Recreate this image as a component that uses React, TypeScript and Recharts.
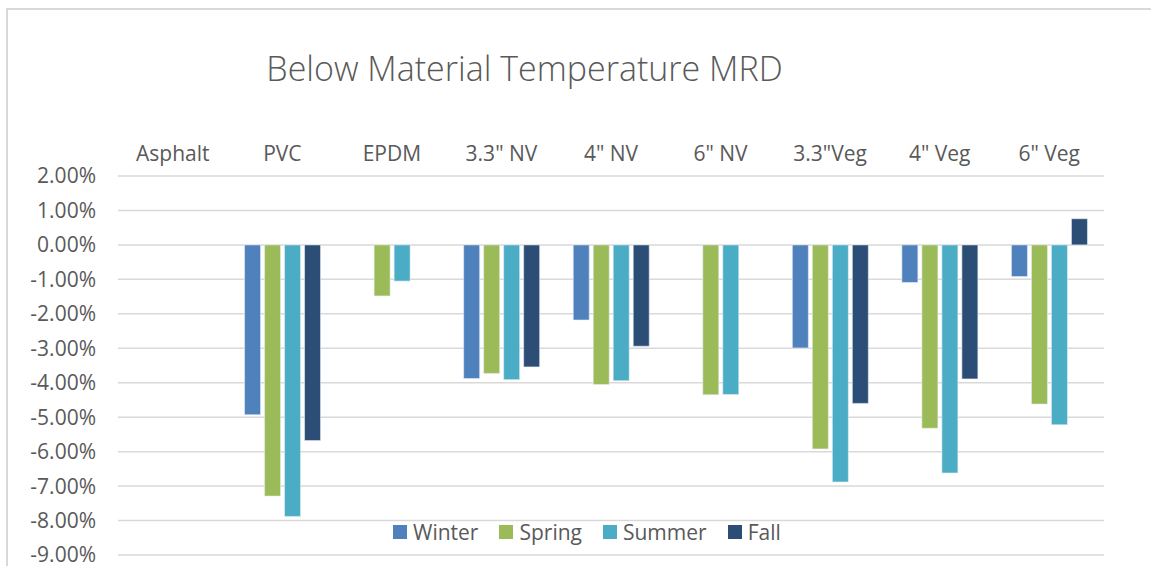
import React from "react";
import { BarChart, Bar, XAxis, YAxis, CartesianGrid } from "recharts";

const categories = ["Asphalt", "PVC", "EPDM", '3.3" NV', '4" NV', '6" NV', '3.3"Veg', '4" Veg', '6" Veg'];
const winter = [null, -0.0493, null, -0.0388, -0.0218, null, -0.0299, -0.0109, -0.0092];
const spring = [null, -0.0729, -0.0148, -0.0373, -0.0405, -0.0435, -0.0592, -0.0532, -0.0462];
const summer = [null, -0.0788, -0.0105, -0.0391, -0.0394, -0.0434, -0.0688, -0.0662, -0.0522];
const fall = [null, -0.0568, null, -0.0354, -0.0294, null, -0.046, -0.0389, 0.0076];
const yTicks = [0.02, 0.01, 0, -0.01, -0.02, -0.03, -0.04, -0.05, -0.06, -0.07, -0.08, -0.09];

const seriesNames = ["Winter", "Spring", "Summer", "Fall"];
const seriesColors = ["#4F81BD", "#9BBB59", "#4BACC6", "#2C4D75"];

const data = categories.map((c, i) => ({
  name: c,
  Winter: winter[i],
  Spring: spring[i],
  Summer: summer[i],
  Fall: fall[i],
}));

const FONT = "'Open Sans', sans-serif";
const TEXT = "#595959";

export default function App() {
  return (
    <div style={{ position: "absolute", left: 0, top: 0, width: 1151, height: 566, overflow: "hidden", background: "#fff" }}>
      <div style={{ position: "absolute", left: 6, top: 8, width: 1300, height: 700, border: "2px solid #d9d9d9", boxSizing: "border-box" }} />
      <div style={{ position: "absolute", left: 0, top: 0 }}>
        <BarChart
          width={1151}
          height={566}
          data={data}
          margin={{ top: 130, right: 47, bottom: 11, left: 0 }}
          barSize={16}
          barGap={4}
        >
          <text x={524.5} y={81} textAnchor="middle" fontFamily={FONT} fontSize={34} fontWeight={300} fill={TEXT}>
            Below Material Temperature MRD
          </text>
          <CartesianGrid vertical={false} stroke="#d9d9d9" strokeWidth={1.5} />
          <XAxis
            dataKey="name"
            orientation="top"
            height={46}
            axisLine={false}
            tickLine={false}
            tickSize={0}
            tickMargin={15}
            interval={0}
            tick={{ fill: TEXT, fontSize: 21, fontFamily: FONT }}
          />
          <YAxis
            domain={[-0.09, 0.02]}
            ticks={yTicks}
            interval={0}
            width={118}
            axisLine={false}
            tickLine={false}
            tickSize={0}
            tickMargin={22}
            tickFormatter={(v: number) => (v * 100).toFixed(2) + "%"}
            tick={{ fill: TEXT, fontSize: 21, fontFamily: FONT }}
          />
          {seriesNames.map((n, i) => (
            <Bar key={n} dataKey={n} fill={seriesColors[i]} stroke="#e8eef4" strokeWidth={0.6} isAnimationActive={false} />
          ))}
        </BarChart>
      </div>
      <div
        style={{
          position: "absolute",
          left: 393,
          top: 518,
          display: "flex",
          alignItems: "center",
          fontFamily: FONT,
          fontSize: 21,
          color: TEXT,
          lineHeight: "28px",
          whiteSpace: "nowrap",
        }}
      >
        {seriesNames.map((n, i) => (
          <div key={n} style={{ display: "flex", alignItems: "center", marginRight: i < 3 ? 21 : 0 }}>
            <div style={{ width: 14, height: 14, background: seriesColors[i], marginRight: 6 }} />
            <span>{n}</span>
          </div>
        ))}
      </div>
    </div>
  );
}
